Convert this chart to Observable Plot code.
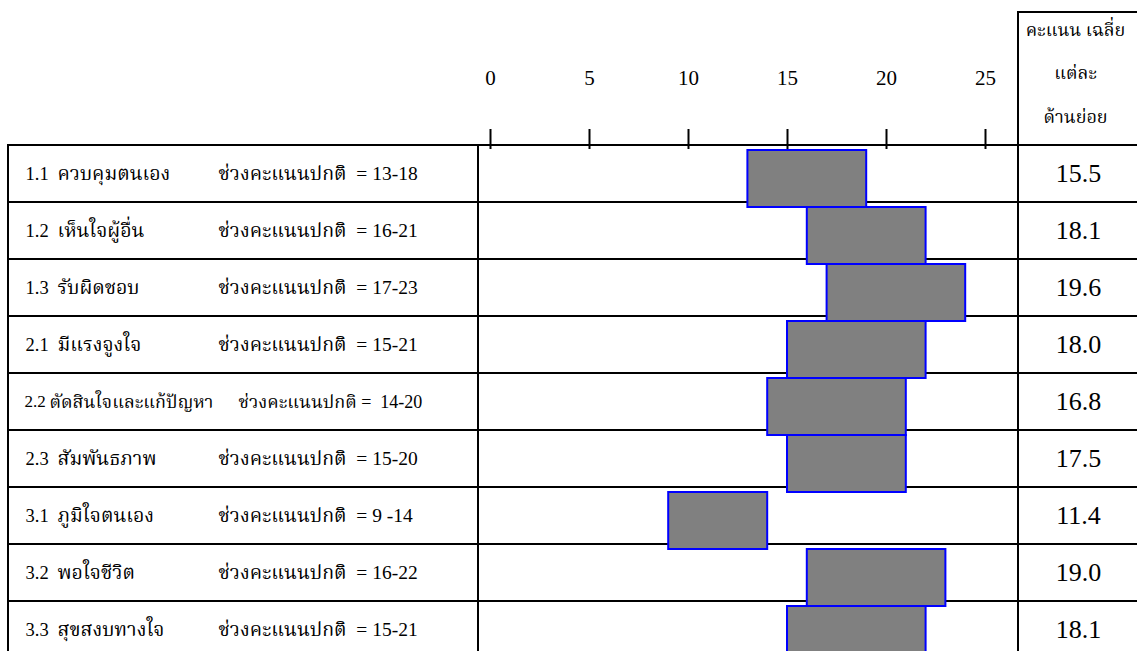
<!DOCTYPE html>
<html>
<head>
<meta charset="utf-8">
<script src="https://cdn.jsdelivr.net/npm/d3@7"></script>
<script src="https://cdn.jsdelivr.net/npm/@observablehq/plot@0.6"></script>
<style>
  html, body { margin: 0; padding: 0; background: #fff; }
  #chart svg { display: block; }
</style>
</head>
<body>
<div id="chart"></div>
<script>
// ---- data ----
const ids = ["1.1", "1.2", "1.3", "2.1", "2.2", "2.3", "3.1", "3.2", "3.3"];
const names = ["ควบคุมตนเอง", "เห็นใจผู้อื่น", "รับผิดชอบ", "มีแรงจูงใจ", "ตัดสินใจและแก้ปัญหา", "สัมพันธภาพ", "ภูมิใจตนเอง", "พอใจชีวิต", "สุขสงบทางใจ"];
const normalRanges = ["13-18", "16-21", "17-23", "15-21", "14-20", "15-20", "9 -14", "16-22", "15-21"];
const barStart = [13, 16, 17, 15, 14, 15, 9, 16, 15];
const barEnd = [19, 22, 24, 22, 21, 21, 14, 23, 22];
const scores = [15.5, 18.1, 19.6, 18.0, 16.8, 17.5, 11.4, 19.0, 18.1];
const xTicks = [0, 5, 10, 15, 20, 25];
const rangeLabel = "ช่วงคะแนนปกติ";
const headerLines = ["คะแนน เฉลี่ย", "แต่ละ", "ด้านย่อย"];

const rows = ids.map((id, i) => ({
  id, name: names[i], range: normalRanges[i],
  start: barStart[i], end: barEnd[i], score: scores[i]
}));

// ---- layout ----
const W = 1137, H = 651;
const mL = 478, mR = 119, mT = 145;
const rowH = 57;
const font = "'Liberation Serif', 'Noto Serif Thai', 'Noto Sans Thai', 'Garuda', 'Loma', serif";
const fs = 19.5;

const headerBox = () => {
  const g = d3.create("svg:g");
  g.append("path")
    .attr("d", `M${W - mR},${mT}V12H${W + 2}`)
    .attr("fill", "none").attr("stroke", "black").attr("stroke-width", 2);
  return g.node();
};

const normalRows = rows.filter(d => d.id !== "2.2");
const longRows = rows.filter(d => d.id === "2.2");

const chart = Plot.plot({
  width: W,
  height: H,
  marginLeft: mL,
  marginRight: mR,
  marginTop: mT,
  marginBottom: 0,
  style: { fontFamily: font, background: "#fff", overflow: "hidden" },
  x: { domain: [0, 25], range: [490, 985] },
  y: { type: "band", domain: ids, range: [mT, mT + rowH * ids.length], padding: 0, axis: null },
  marks: [
    // full-width row boxes
    Plot.cell(rows, { y: "id", fill: "none", stroke: "black", strokeWidth: 2, insetLeft: 8 - mL, insetRight: -(mR + 5) }),
    // chart-column borders
    Plot.cell(rows, { y: "id", fill: "none", stroke: "black", strokeWidth: 2 }),
    headerBox,
    // normal-range bars
    Plot.barX(rows, { x1: "start", x2: "end", y: "id", fill: "#808080", stroke: "#0000ff", strokeWidth: 2, dy: 5 }),
    // top axis
    Plot.axisX(xTicks, { anchor: "top", tickSize: 20, tickPadding: 44, dy: 3, strokeWidth: 2, fontSize: 21, fill: "#000", tickFormat: d => String(d) }),
    // left column labels
    Plot.text(normalRows, { y: "id", text: "id", frameAnchor: "left", dx: 25 - mL, textAnchor: "start", fontSize: 18.5 }),
    Plot.text(longRows, { y: "id", text: "id", frameAnchor: "left", dx: 24 - mL, textAnchor: "start", fontSize: 17 }),
    Plot.text(normalRows, { y: "id", text: "name", frameAnchor: "left", dx: 57 - mL, textAnchor: "start", fontSize: fs }),
    Plot.text(normalRows, { y: "id", text: d => `${rangeLabel}  = ${d.range}`, frameAnchor: "left", dx: 218 - mL, textAnchor: "start", fontSize: fs }),
    Plot.text(longRows, { y: "id", text: "name", frameAnchor: "left", dx: 49 - mL, textAnchor: "start", fontSize: 18 }),
    Plot.text(longRows, { y: "id", text: d => `${rangeLabel} =  ${d.range}`, frameAnchor: "left", dx: 238 - mL, textAnchor: "start", fontSize: 18 }),
    // score column
    Plot.text(rows, { y: "id", text: d => d.score.toFixed(1), frameAnchor: "right", dx: 60, textAnchor: "middle", fontSize: 26 }),
    // score header
    Plot.text([headerLines.join("\n")], { text: d => d, frameAnchor: "top-right", dx: 57, dy: 5 - mT, lineAnchor: "top", lineHeight: 2.4, textAnchor: "middle", fontSize: 18 })
  ]
});

document.getElementById("chart").append(chart);
</script>
</body>
</html>
